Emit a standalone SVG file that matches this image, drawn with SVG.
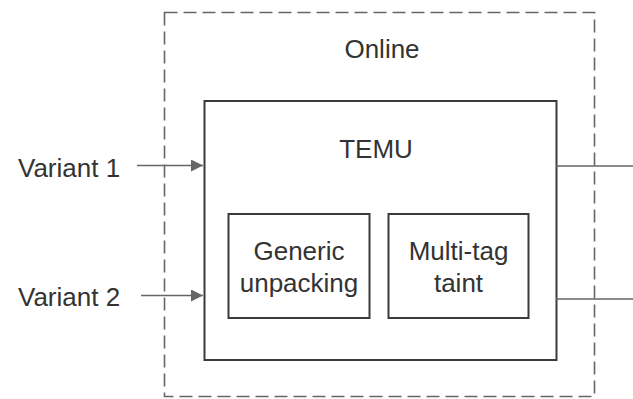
<svg xmlns="http://www.w3.org/2000/svg" width="633" height="399" viewBox="0 0 633 399">
  <style>
    .lbl { font-family: "Liberation Sans", Arial, sans-serif; font-size: 26px; fill: #333; }
    .mid { text-anchor: middle; }
    .box { fill: none; stroke: #3a3a3a; stroke-width: 2; }
    .frame { fill: none; stroke: #666; stroke-width: 1.6; stroke-dasharray: 13 6; }
    .wire { fill: none; stroke: #666; stroke-width: 1.6; }
  </style>
  <defs>
    <marker id="arrow" viewBox="0 0 10 10" refX="10" refY="5" markerWidth="12" markerHeight="12" markerUnits="userSpaceOnUse" orient="auto">
      <path d="M0,0 L10,5 L0,10 z" fill="#666"/>
    </marker>
  </defs>
  <rect width="633" height="399" fill="#fff"/>

  <g id="online">
    <rect class="frame" x="164.5" y="12.5" width="430" height="384"/>
    <text class="lbl mid" x="382" y="58">Online</text>
  </g>

  <g id="temu">
    <rect class="box" x="204.5" y="101" width="352" height="259"/>
    <text class="lbl mid" x="376" y="158">TEMU</text>
  </g>

  <g id="generic-unpacking">
    <rect class="box" x="228.5" y="214" width="141" height="104"/>
    <text class="lbl mid" x="299" y="260">Generic</text>
    <text class="lbl mid" x="299" y="292">unpacking</text>
  </g>

  <g id="multi-tag-taint">
    <rect class="box" x="388.5" y="214" width="140" height="104"/>
    <text class="lbl mid" x="458.5" y="260">Multi-tag</text>
    <text class="lbl mid" x="458.5" y="292">taint</text>
  </g>

  <g id="variant-1">
    <text class="lbl" x="18" y="177">Variant 1</text>
  </g>

  <g id="variant-2">
    <text class="lbl" x="18" y="306">Variant 2</text>
  </g>

  <g id="connectors">
    <line class="wire" x1="137" y1="165.5" x2="203" y2="165.5" marker-end="url(#arrow)"/>
    <line class="wire" x1="141" y1="295.5" x2="203" y2="295.5" marker-end="url(#arrow)"/>
    <line class="wire" x1="556" y1="166" x2="633" y2="166"/>
    <line class="wire" x1="556" y1="299" x2="633" y2="299"/>
  </g>
</svg>
